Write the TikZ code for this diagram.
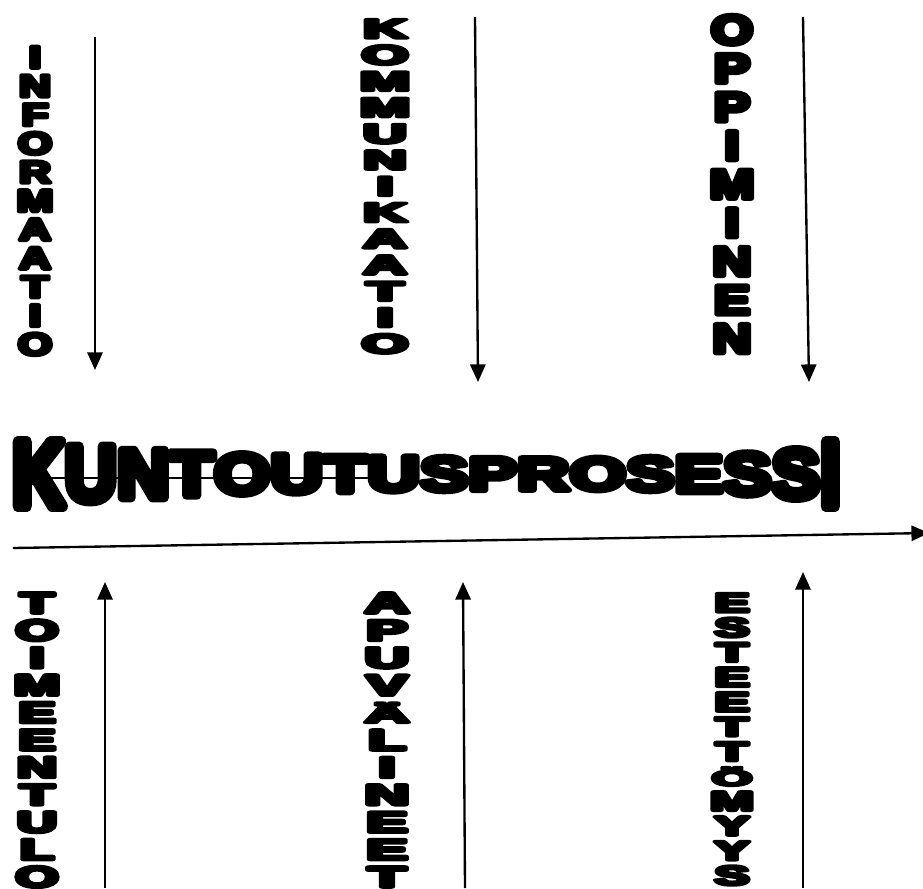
\documentclass[tikz,border=0pt]{standalone}
\usepackage{fontspec}
\usepackage{graphicx}
\newfontfamily\blackfont{Liberation Sans}[BoldFeatures={FakeBold=12}]
\usetikzlibrary{arrows.meta}

\tikzset{
  letter/.style={inner sep=0pt, anchor=base},
  flow/.style={line width=2pt, -{Triangle[length=15pt,width=13pt]}},
}
\newcommand{\uml}[1]{\scalebox{1}[0.8]{#1}}

\begin{document}
\begin{tikzpicture}[x=0.03cm, y=-0.03cm, line join=round]
  \useasboundingbox (0,0) rectangle (923,888);

  % Top words, read downwards
  \foreach \ch [count=\i] in {I,N,F,O,R,M,A,A,T,I,O}
    \node[letter, font=\blackfont\bfseries\fontsize{36}{36}\selectfont] (inf\i) at (35,{39.3+28.7*\i}) {\scalebox{1.05}[0.74]{\ch}};
  \foreach \ch [count=\i] in {K,O,M,M,U,N,I,K,A,A,T,I,O}
    \node[letter, font=\blackfont\bfseries\fontsize{46}{46}\selectfont] (kom\i) at (385,{11.75+26.25*\i}) {\scalebox{1.12}[0.5]{\ch}};
  \foreach \ch [count=\i] in {O,P,P,I,M,I,N,E,N}
    \node[letter, font=\blackfont\bfseries\fontsize{44}{44}\selectfont] (opp\i) at (732,{5.4+38.6*\i}) {\scalebox{1.05}[0.8]{\ch}};

  % Arrows down
  \coordinate (infS) at (95,37);   \coordinate (infE) at (95,370);
  \coordinate (komS) at (475,17);  \coordinate (komE) at (478,382);
  \coordinate (oppS) at (803,17);  \coordinate (oppE) at (809,382);
  \draw[flow] (infS) -- (infE);
  \draw[flow] (komS) -- (komE);
  \draw[flow] (oppS) -- (oppE);

  % Process word
  \coordinate (strikeL) at (13,478);
  \coordinate (strikeR) at (387,478);
  \draw[line width=1pt] (strikeL) -- (strikeR);
  \node[letter, anchor=west, font=\blackfont\bfseries\fontsize{61.5}{61.5}\selectfont] (w1) at (12,474) {\scalebox{1}[1.3]{K}};
  \foreach \ch/\ys [count=\i from 2, remember=\i as \j (initially 1)] in
      {U/1.1, N/0.97, T/0.88, O/0.8, U/0.77, T/0.73, U/0.7, S/0.68,
       P/0.66, R/0.65, O/0.65, S/0.68, E/0.73, S/0.83, S/0.97, I/1.3}
    \node[letter, anchor=west, font=\blackfont\bfseries\fontsize{61.5}{61.5}\selectfont] (w\i) at (w\j.east) {\scalebox{1}[\ys]{\ch}};

  % Time line
  \coordinate (lineS) at (13,548);
  \coordinate (lineE) at (929,533);
  \draw[flow] (lineS) -- (lineE);

  % Bottom words, read downwards
  \foreach \ch [count=\i] in {T,O,I,M,E,E,N,T,U,L,O}
    \node[letter, font=\blackfont\bfseries\fontsize{44}{44}\selectfont] (toi\i) at (37,{585.6+27.4*\i}) {\scalebox{1.08}[0.57]{\ch}};
  \foreach \ch [count=\i] in {A,P,U,V,\uml{Ä},L,I,N,E,E,T}
    \node[letter, font=\blackfont\bfseries\fontsize{47.8}{47.8}\selectfont] (apu\i) at (387,{585.6+27.4*\i}) {\scalebox{1.1}[0.52]{\ch}};
  \foreach \ch [count=\i] in {E,S,T,E,E,T,T,\uml{Ö},M,Y,Y,S}
    \node[letter, font=\blackfont\bfseries\fontsize{42.7}{42.7}\selectfont] (est\i) at (732,{587.2+24.8*\i}) {\scalebox{1.05}[0.54]{\ch}};

  % Arrows up
  \coordinate (toiS) at (105,888); \coordinate (toiE) at (105,582);
  \coordinate (apuS) at (465,888); \coordinate (apuE) at (463,582);
  \coordinate (estS) at (803,888); \coordinate (estE) at (803,572);
  \draw[flow] (toiS) -- (toiE);
  \draw[flow] (apuS) -- (apuE);
  \draw[flow] (estS) -- (estE);

\end{tikzpicture}
\end{document}
